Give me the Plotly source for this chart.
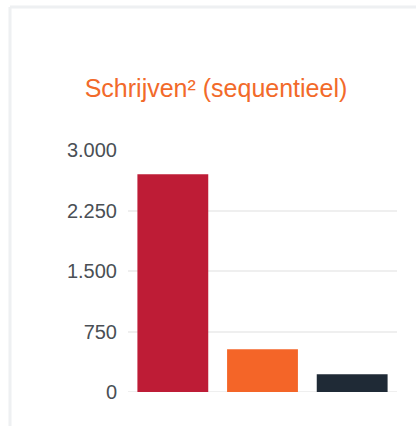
import plotly.graph_objects as go

categories = ["A", "B", "C"]
values = [2700, 530, 220]
bar_colors = ["#BE1C36", "#F46528", "#1F2A36"]
tick_vals = [0, 750, 1500, 2250, 3000]
tick_text = ["0", "750", "1.500", "2.250", "3.000"]
title_text = "Schrijven² (sequentieel)"

W, H = 416, 426
L, R, T, B = 128, 19, 150, 34
pw, ph = W - L - R, H - T - B

def px(x):
    return (x - L) / pw

def py(y):
    return (H - B - y) / ph

fig = go.Figure(go.Bar(x=categories, y=values, marker=dict(color=bar_colors, line=dict(width=0)),
                       hoverinfo="skip"))

fig.update_layout(
    width=W, height=H,
    margin=dict(l=L, r=R, t=T, b=B, pad=0),
    paper_bgcolor="white", plot_bgcolor="white",
    bargap=0.21,
    showlegend=False,
    font=dict(family="Liberation Sans, Arial, Helvetica, sans-serif"),
    title=dict(text=title_text, x=216 / W, xref="container", xanchor="center",
               y=1 - 88 / H, yref="container", yanchor="middle",
               font=dict(size=25, color="#F26A2A", family="Liberation Sans, Arial, sans-serif")),
    xaxis=dict(showticklabels=False, showgrid=False, zeroline=False, showline=False, ticks=""),
    yaxis=dict(range=[0, 3000], tickvals=tick_vals, ticktext=tick_text,
               showgrid=True, gridcolor="#EFEFEF", gridwidth=2,
               zeroline=False, showline=False, ticks="", ticklabelstandoff=10,
               tickfont=dict(size=20, color="#4A4F55")),
)

# zero gridline drawn below bars
fig.add_shape(type="line", xref="paper", yref="y", x0=0, x1=1, y0=0, y1=0,
              line=dict(color="#EFEFEF", width=2), layer="below")

# card border (top and left edges)
fig.add_shape(type="line", xref="paper", yref="paper",
              x0=px(10), x1=px(430), y0=py(7), y1=py(7),
              line=dict(color="#EEF0F2", width=3), layer="below")
fig.add_shape(type="line", xref="paper", yref="paper",
              x0=px(10), x1=px(10), y0=py(7), y1=py(440),
              line=dict(color="#EEF0F2", width=3), layer="below")

fig.write_html("out.html", config={"displayModeBar": False, "staticPlot": True},
               post_script="document.body.style.margin='0';")
